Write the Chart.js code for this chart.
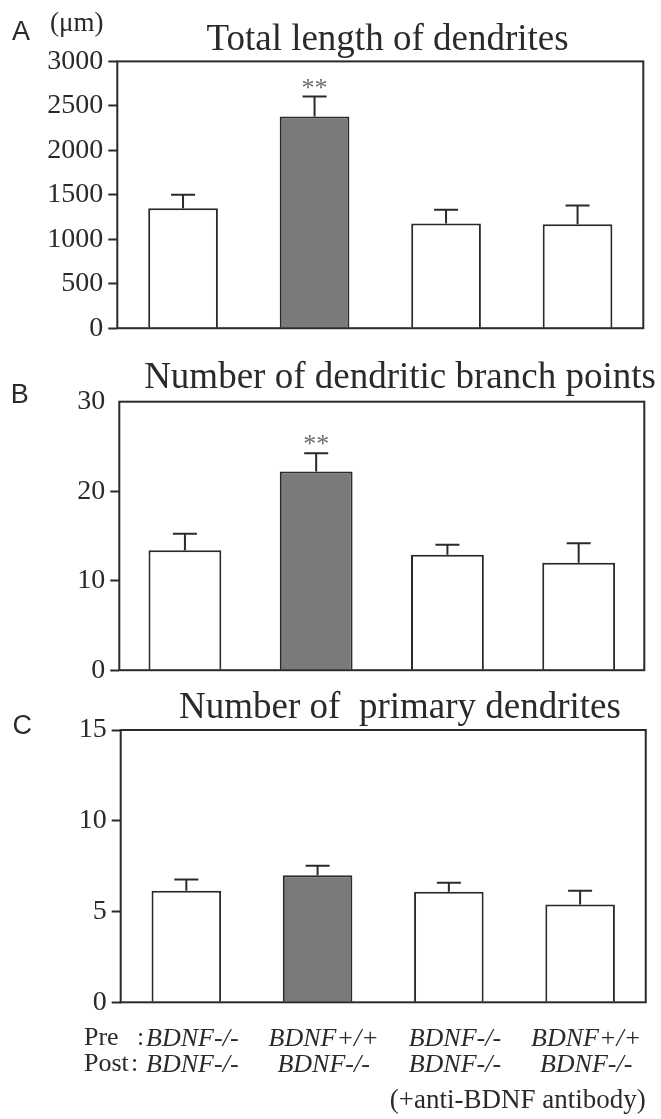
<!DOCTYPE html>
<html>
<head>
<meta charset="utf-8">
<script src="https://cdn.jsdelivr.net/npm/chart.js@4"></script>
<style>
  html, body { margin: 0; padding: 0; background: #fff; }
  #wrap { position: relative; width: 661px; height: 1119px; overflow: hidden; }
  canvas { position: absolute; left: 0; }
</style>
</head>
<body>
<div id="wrap">
  <canvas id="lengthChart" width="661" height="350" style="top:0px"></canvas>
  <canvas id="branchChart" width="661" height="342" style="top:350px"></canvas>
  <canvas id="primaryChart" width="661" height="429" style="top:690px"></canvas>
</div>
<script>
// groups: presynaptic / postsynaptic genotype
const PRE = ["BDNF-/-", "BDNF+/+", "BDNF-/-", "BDNF+/+"];
const POST = ["BDNF-/-", "BDNF-/-", "BDNF-/-", "BDNF-/-"];
const BAR_FILL = ["#ffffff", "#7a7a7a", "#ffffff", "#ffffff"];
const SIGNIF = ["", "**", "", ""];

// A: total length of dendrites (um), mean and SEM
const LENGTH_MEAN = [1350, 2380, 1177, 1170];
const LENGTH_SEM = [151, 225, 154, 210];
const LENGTH_TICKS = [0, 500, 1000, 1500, 2000, 2500, 3000];

// B: number of dendritic branch points
const BRANCH_MEAN = [13.4, 22.2, 12.9, 12.0];
const BRANCH_SEM = [1.84, 2.05, 1.12, 2.18];
const BRANCH_TICKS = [0, 10, 20, 30];

// C: number of primary dendrites
const PRIMARY_MEAN = [6.14, 7.0, 6.09, 5.39];
const PRIMARY_SEM = [0.63, 0.52, 0.49, 0.75];
const PRIMARY_TICKS = [0, 5, 10, 15];

const INK = "#2a2a2a";
const SERIF = "'Liberation Serif', 'Times New Roman', serif";
const SANS = "'Liberation Sans', Arial, sans-serif";

const frame = {
  id: "frame",
  afterDatasetsDraw(chart) {
    const { ctx, chartArea: a } = chart;
    ctx.save();
    ctx.strokeStyle = INK;
    ctx.lineWidth = 2;
    ctx.strokeRect(a.left, a.top, a.right - a.left, a.bottom - a.top);
    ctx.restore();
  }
};

function errorBars(sem, marks) {
  return {
    id: "errorBars",
    afterDatasetsDraw(chart) {
      const ctx = chart.ctx;
      const y = chart.scales.y;
      const values = chart.data.datasets[0].data;
      ctx.save();
      ctx.strokeStyle = INK;
      ctx.lineWidth = 2;
      chart.getDatasetMeta(0).data.forEach((bar, i) => {
        const top = y.getPixelForValue(values[i] + sem[i]);
        ctx.beginPath();
        ctx.moveTo(bar.x, bar.y);
        ctx.lineTo(bar.x, top);
        ctx.moveTo(bar.x - 12, top);
        ctx.lineTo(bar.x + 12, top);
        ctx.stroke();
        if (marks && marks[i]) {
          ctx.fillStyle = "#6c6c6c";
          ctx.font = "26px " + SERIF;
          ctx.textAlign = "center";
          ctx.fillText(marks[i], bar.x, top - 1);
        }
      });
      ctx.restore();
    }
  };
}

function texts(items) {
  return {
    id: "texts",
    afterDraw(chart) {
      const ctx = chart.ctx;
      ctx.save();
      ctx.textBaseline = "alphabetic";
      items.forEach(t => {
        ctx.font = t.font;
        ctx.fillStyle = INK;
        ctx.textAlign = t.align || "left";
        ctx.fillText(t.text, t.x, t.y);
      });
      ctx.restore();
    }
  };
}

function panel(id, cfg) {
  return new Chart(document.getElementById(id), {
    type: "bar",
    data: {
      labels: PRE.map((p, i) => [p, POST[i]]),
      datasets: [{
        data: cfg.mean,
        backgroundColor: BAR_FILL,
        borderColor: INK,
        borderWidth: 2,
        barPercentage: cfg.barPct,
        categoryPercentage: 1
      }]
    },
    options: {
      responsive: false,
      animation: false,
      layout: { padding: cfg.padding },
      plugins: {
        legend: { display: false },
        tooltip: { enabled: false },
        title: { display: false }
      },
      scales: {
        x: cfg.x,
        y: {
          min: 0,
          max: cfg.ticks[cfg.ticks.length - 1],
          afterFit: s => { s.width = cfg.axisWidth; },
          afterBuildTicks: s => { s.ticks = cfg.ticks.map(v => ({ value: v })); },
          border: { display: false },
          grid: {
            drawOnChartArea: false,
            drawTicks: true,
            tickLength: 9,
            tickWidth: 2,
            tickColor: cfg.tickColor || INK
          },
          ticks: {
            padding: 5,
            color: INK,
            font: { family: SERIF, size: 28 },
            callback: v => String(v)
          }
        }
      }
    },
    plugins: [errorBars(cfg.sem, cfg.marks), frame, texts(cfg.text)]
  });
}

panel("lengthChart", {
  mean: LENGTH_MEAN,
  sem: LENGTH_SEM,
  marks: SIGNIF,
  ticks: LENGTH_TICKS,
  barPct: 0.53,
  axisWidth: 117.3,
  padding: { top: 61.4, bottom: 16.7, left: 0, right: 17.7 },
  x: { display: false },
  text: [
    { text: "A", x: 12, y: 40, font: "27px " + SANS },
    { text: "(\u03bcm)", x: 50, y: 31, font: "27px " + SERIF },
    { text: "Total length of dendrites", x: 387.5, y: 50, align: "center", font: "37px " + SERIF }
  ]
});

panel("branchChart", {
  mean: BRANCH_MEAN,
  sem: BRANCH_SEM,
  marks: SIGNIF,
  ticks: BRANCH_TICKS,
  barPct: 0.555,
  axisWidth: 119.3,
  tickColor: c => (c.tick && c.tick.value === 30 ? "rgba(0,0,0,0)" : INK),
  padding: { top: 51.7, bottom: 18, left: 0, right: 16.7 },
  x: { display: false },
  text: [
    { text: "B", x: 10.7, y: 53.3, font: "27px " + SANS },
    { text: "Number of dendritic branch points", x: 400, y: 38.3, align: "center", font: "37px " + SERIF }
  ]
});

panel("primaryChart", {
  mean: PRIMARY_MEAN,
  sem: PRIMARY_SEM,
  marks: null,
  ticks: PRIMARY_TICKS,
  barPct: 0.53,
  axisWidth: 120.7,
  padding: { top: 40, bottom: 0, left: 0, right: 14.3 },
  x: {
    afterFit: s => { s.height = 116.7; },
    grid: { display: false, drawTicks: false },
    border: { display: false },
    ticks: {
      padding: 24,
      labelOffset: 6,
      color: INK,
      font: { family: SERIF, size: 26, style: "italic", lineHeight: 1 }
    },
    title: {
      display: true,
      text: "(+anti-BDNF antibody)",
      align: "end",
      color: INK,
      font: { family: SERIF, size: 27 },
      padding: { top: 10.5, bottom: 1.8 }
    }
  },
  text: [
    { text: "C", x: 12.5, y: 44, font: "27px " + SANS },
    { text: "Number of  primary dendrites", x: 400, y: 28.3, align: "center", font: "37px " + SERIF },
    { text: "Pre", x: 84, y: 355, font: "26px " + SERIF },
    { text: ":", x: 137, y: 355, font: "26px " + SERIF },
    { text: "Post", x: 84, y: 381, font: "26px " + SERIF },
    { text: ":", x: 131, y: 381, font: "26px " + SERIF }
  ]
});
</script>
</body>
</html>
